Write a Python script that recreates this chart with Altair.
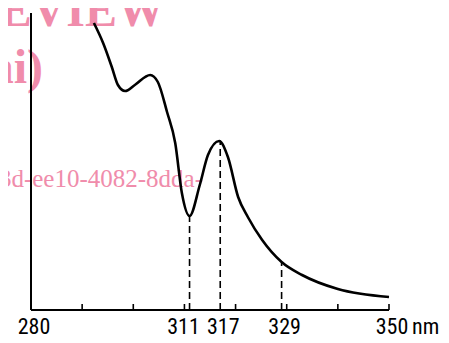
import altair as alt
import pandas as pd

# Spectrum curve (wavelength in nm, relative absorbance in arbitrary units)
wavelength = [292.3, 294.1, 295.8, 297.0, 298.4, 300.3, 303.3, 304.8, 306.6, 308.2,
              309.5, 311.0, 313.0, 314.6, 316.8, 318.5, 320.5, 322.4, 325.2, 329.0,
              333.0, 340.0, 350.0]
absorbance = [287, 267, 243, 225, 219, 225, 235, 228, 198, 167,
              117, 94, 125, 155, 169, 153, 113, 93, 70, 48,
              35, 21, 13]

# Marked wavelengths (dashed drop lines) and their curve heights
marked_nm = [311, 317, 329]
marked_top = [94, 169, 48]

# Axis ticks and labels
minor_ticks = [290, 300, 310, 320, 330, 340, 350]
label_values = [280, 311, 317, 329, 350]
label_texts = ["280", "311", "317", "329", "350"]
unit_text = "nm"

watermark = ["EVIEW", "ai)", "3d-ee10-4082-8dda-"]

xs = alt.Scale(domain=[280, 350], nice=False, zero=False)
ys = alt.Scale(domain=[0, 297], nice=False, zero=False)
PINK = "#f08cab"
FONT = "Roboto Condensed"
LABEL_Y = 321

curve_df = pd.DataFrame({"wl": wavelength, "a": absorbance})
drop_df = pd.DataFrame({"wl": marked_nm, "a0": [0] * len(marked_nm), "a1": marked_top})
tick_df = pd.DataFrame({"wl": minor_ticks, "a0": [0] * len(minor_ticks), "a1": [6] * len(minor_ticks)})
lab_df = pd.DataFrame({"wl": label_values, "t": label_texts})
wm_df = pd.DataFrame({"t": watermark})
axis_df = pd.DataFrame({"x0": [280, 280], "x1": [350, 280], "y0": [0, 0], "y1": [0, 297]})


def wm(text, x, y, size, weight):
    return alt.Chart(wm_df).transform_filter(alt.datum.t == text).mark_text(
        font="Liberation Serif", fontWeight=weight, fontSize=size, color=PINK,
        align="right", baseline="alphabetic").encode(
        x=alt.value(x), y=alt.value(y), text="t:N")


wm1 = wm(watermark[0], 134, 13, 48, "bold")
wm2 = wm(watermark[1], 12, 70, 48, "bold")
wm3 = wm(watermark[2], 172, 174, 25, "normal")

axes = alt.Chart(axis_df).mark_rule(color="black", strokeWidth=2).encode(
    x=alt.X("x0:Q", scale=xs, axis=None), x2="x1:Q",
    y=alt.Y("y0:Q", scale=ys, axis=None), y2="y1:Q")

ticks = alt.Chart(tick_df).mark_rule(color="black", strokeWidth=1.6).encode(
    x=alt.X("wl:Q", scale=xs, axis=None),
    y=alt.Y("a0:Q", scale=ys, axis=None), y2="a1:Q")

drops = alt.Chart(drop_df).mark_rule(color="black", strokeWidth=1.6, strokeDash=[7, 4]).encode(
    x=alt.X("wl:Q", scale=xs, axis=None),
    y=alt.Y("a0:Q", scale=ys, axis=None), y2="a1:Q")

line = alt.Chart(curve_df).mark_line(color="black", strokeWidth=2.6, interpolate="monotone").encode(
    x=alt.X("wl:Q", scale=xs, axis=None),
    y=alt.Y("a:Q", scale=ys, axis=None))

labels_main = alt.Chart(lab_df).transform_filter(alt.datum.t != "311").mark_text(
    font=FONT, fontSize=22, color="black", align="center", baseline="alphabetic", dx=3).encode(
    x=alt.X("wl:Q", scale=xs, axis=None), y=alt.value(LABEL_Y), text="t:N")

labels_311 = alt.Chart(lab_df).transform_filter(alt.datum.t == "311").mark_text(
    font=FONT, fontSize=22, color="black", align="center", baseline="alphabetic", dx=-6).encode(
    x=alt.X("wl:Q", scale=xs, axis=None), y=alt.value(LABEL_Y), text="t:N")

unit = alt.Chart(pd.DataFrame({"wl": [label_values[-1]], "t": [unit_text]})).mark_text(
    font=FONT, fontSize=22, color="black", align="left", baseline="alphabetic", dx=23).encode(
    x=alt.X("wl:Q", scale=xs, axis=None), y=alt.value(LABEL_Y), text="t:N")

chart = alt.layer(wm1, wm2, wm3, axes, ticks, drops, line, labels_main, labels_311, unit).properties(
    width=358, height=297,
    autosize=alt.AutoSizeParams(type="none"),
    padding={"left": 23, "top": 5, "right": 52, "bottom": 25},
    background="white",
).configure_view(stroke=None)

chart.save("out.html", embed_options={"renderer": "svg", "actions": False})
